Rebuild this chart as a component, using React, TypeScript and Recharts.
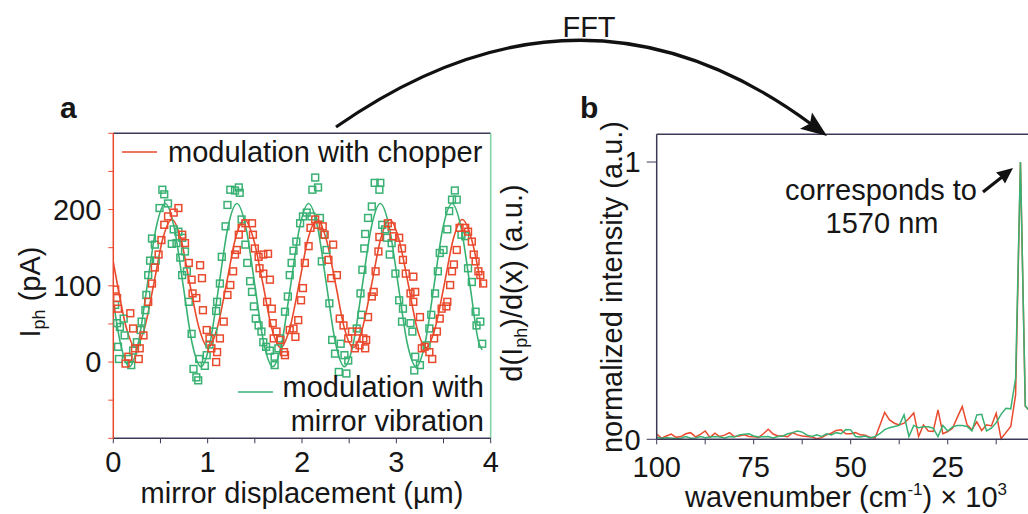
import {
  ComposedChart,
  LineChart,
  Line,
  Scatter,
  XAxis,
  YAxis,
  ReferenceLine,
} from 'recharts'

const FONT = "'Liberation Sans', Arial, Helvetica, sans-serif"
const RED = '#e9492c'
const GREEN = '#38b173'
const GREEN_AXIS = '#7fcfa0'
const NAVY = '#3a3a58'

// panel a: photocurrent vs mirror displacement (µm, pA)
const chopperPoints: [number, number][] = [
  [0.02, 95], [0.04, 84], [0.05, 70], [0.13, -2], [0.16, 7], [0.18, 64], [0.21, 44], [0.23, 18],
  [0.27, 4], [0.28, 18], [0.32, 35], [0.37, 79], [0.41, 103], [0.44, 124], [0.48, 141], [0.51, 160],
  [0.54, 180], [0.58, 191], [0.64, 196], [0.69, 202], [0.73, 167], [0.76, 156], [0.8, 130], [0.83, 108],
  [0.84, 90], [0.88, 84], [0.92, 127], [0.94, 110], [0.95, 68], [0.99, 42], [1.02, 31], [1.04, 18],
  [1.09, 0], [1.1, 13], [1.13, 31], [1.17, 53], [1.21, 88], [1.24, 101], [1.27, 119], [1.29, 141],
  [1.31, 147], [1.33, 167], [1.36, 176], [1.4, 182], [1.47, 182], [1.48, 167], [1.5, 149], [1.54, 138],
  [1.55, 123], [1.59, 141], [1.59, 116], [1.63, 79], [1.64, 142], [1.66, 108], [1.68, 70], [1.69, 51],
  [1.7, 31], [1.73, 40], [1.77, 29], [1.81, 13], [1.82, 9], [1.87, 42], [1.91, 44], [1.93, 33],
  [1.96, 55], [1.99, 81], [2.01, 97], [2.03, 130], [2.07, 152], [2.09, 176], [2.14, 187], [2.17, 180],
  [2.22, 178], [2.24, 167], [2.28, 134], [2.31, 110], [2.33, 154], [2.37, 114], [2.4, 57], [2.44, 48],
  [2.49, 31], [2.53, 40], [2.56, 18], [2.6, 40], [2.61, 22], [2.65, 31], [2.67, 18], [2.68, 29],
  [2.7, 59], [2.74, 86], [2.76, 92], [2.78, 119], [2.81, 145], [2.82, 164], [2.91, 182], [2.95, 178],
  [2.97, 165], [3.03, 163], [3.06, 149], [3.07, 134], [3.1, 116], [3.15, 90], [3.18, 112], [3.18, 79],
  [3.2, 92], [3.25, 59], [3.27, 18], [3.3, 20], [3.35, 13], [3.38, 4], [3.4, 31], [3.43, 40],
  [3.46, 57], [3.48, 70], [3.53, 73], [3.54, 79], [3.57, 101], [3.59, 119], [3.61, 128], [3.64, 147],
  [3.67, 176], [3.73, 176], [3.76, 171], [3.8, 158], [3.82, 141], [3.84, 132], [3.87, 119], [3.89, 114],
  [3.92, 103],
]

const mirrorPoints: [number, number][] = [
  [0.02, 75], [0.04, 51], [0.05, 20], [0.06, 4], [0.07, 46], [0.11, 57], [0.12, 35], [0.16, 4],
  [0.19, -4], [0.21, 15], [0.25, 26], [0.29, 42], [0.3, 53], [0.34, 68], [0.35, 88], [0.37, 114],
  [0.39, 133], [0.41, 162], [0.44, 154], [0.45, 133], [0.49, 202], [0.52, 226], [0.54, 220], [0.58, 208],
  [0.62, 155], [0.64, 174], [0.67, 156], [0.69, 171], [0.71, 137], [0.73, 163], [0.73, 114], [0.76, 145],
  [0.78, 119], [0.8, 79], [0.83, 37], [0.85, -9], [0.88, -20], [0.9, -24], [0.91, 4], [0.97, -5],
  [0.99, 9], [1.02, 23], [1.06, 40], [1.09, 67], [1.1, 79], [1.13, 103], [1.15, 138], [1.19, 178],
  [1.21, 206], [1.24, 226], [1.29, 225], [1.33, 229], [1.34, 222], [1.36, 187], [1.4, 154], [1.42, 130],
  [1.45, 106], [1.47, 92], [1.49, 73], [1.51, 57], [1.54, 48], [1.57, 40], [1.59, 26], [1.62, 20],
  [1.66, 15], [1.71, 7], [1.71, -4], [1.75, 18], [1.77, 31], [1.82, 66], [1.85, 86], [1.87, 114],
  [1.89, 130], [1.91, 146], [1.94, 158], [1.98, 182], [2.01, 191], [2.05, 196], [2.1, 191], [2.11, 226],
  [2.14, 242], [2.17, 229], [2.19, 189], [2.21, 132], [2.23, 167], [2.26, 147], [2.29, 77], [2.32, 29],
  [2.35, 11], [2.39, -13], [2.41, 24], [2.45, 9], [2.47, -15], [2.49, 2], [2.58, 44], [2.62, 90],
  [2.63, 62], [2.64, 121], [2.66, 149], [2.67, 168], [2.7, 189], [2.74, 204], [2.77, 235], [2.82, 226],
  [2.83, 235], [2.85, 180], [2.88, 174], [2.9, 163], [2.93, 141], [2.95, 156], [2.99, 116], [3.03, 81],
  [3.06, 53], [3.07, 70], [3.15, 51], [3.17, 40], [3.19, -11], [3.2, 7], [3.25, -4], [3.32, 22],
  [3.35, 44], [3.37, 62], [3.41, 90], [3.44, 119], [3.46, 143], [3.5, 147], [3.54, 174], [3.56, 198],
  [3.59, 213], [3.62, 225], [3.64, 213], [3.69, 167], [3.73, 165], [3.76, 123], [3.8, 105], [3.84, 66],
  [3.85, 48], [3.89, 53], [3.91, 24],
]

// fitted sinusoids, sampled at eighth-period steps
const chopperFit: [number, number][] = [
  [0, 131], [0.04, 104], [0.14, 44], [0.235, 19], [0.33, 44], [0.43, 103], [0.525, 162], [0.62, 187],
  [0.715, 162], [0.81, 103], [0.91, 44], [1.005, 19], [1.1, 44], [1.2, 103], [1.295, 162], [1.39, 187],
  [1.485, 162], [1.585, 103], [1.68, 44], [1.775, 19], [1.87, 44], [1.97, 103], [2.065, 162], [2.16, 187],
  [2.255, 162], [2.355, 103], [2.45, 44], [2.545, 19], [2.64, 44], [2.74, 103], [2.835, 162], [2.93, 187],
  [3.025, 162], [3.125, 103], [3.22, 44], [3.315, 19], [3.41, 44], [3.51, 103], [3.605, 162], [3.7, 187],
  [3.795, 162], [3.9, 100],
]

const mirrorFit: [number, number][] = [
  [0, 80], [0.075, 25], [0.17, -6], [0.265, 25], [0.36, 101], [0.455, 177], [0.55, 208], [0.645, 177],
  [0.74, 101], [0.835, 25], [0.93, -6], [1.025, 25], [1.12, 101], [1.215, 177], [1.31, 208], [1.405, 177],
  [1.5, 101], [1.595, 25], [1.69, -6], [1.785, 25], [1.88, 101], [1.975, 177], [2.07, 208], [2.165, 177],
  [2.26, 101], [2.355, 25], [2.45, -6], [2.545, 25], [2.64, 101], [2.735, 177], [2.83, 208], [2.925, 177],
  [3.02, 101], [3.115, 25], [3.21, -6], [3.305, 25], [3.4, 101], [3.495, 177], [3.59, 208], [3.685, 177],
  [3.78, 101], [3.875, 25], [3.91, 16],
]

const displacementTicks = [0, 0.5, 1, 1.5, 2, 2.5, 3, 3.5, 4]
const currentTicks = [-100, -50, 0, 50, 100, 150, 200, 250, 300]

// panel b: FFT spectra (wavenumber in 10^3 cm^-1)
const wavenumbers = [
  100, 98.75, 97.5, 96.25, 95, 93.75, 92.5, 91.25, 90, 88.75, 87.5, 86.25, 85, 83.75, 82.5, 81.25,
  80, 78.75, 77.5, 76.25, 75, 73.75, 72.5, 71.25, 70, 68.75, 67.5, 66.25, 65, 63.75, 62.5, 61.25,
  60, 58.75, 57.5, 56.25, 55, 53.75, 52.5, 51.25, 50, 48.75, 47.5, 46.25, 45, 43.75, 42.5, 41.25,
  40, 38.75, 37.5, 36.25, 35, 33.75, 32.5, 31.25, 30, 28.75, 27.5, 26.25, 25, 23.75, 22.5, 21.25,
  20, 18.75, 17.5, 16.25, 15, 13.75, 12.5, 11.25, 10, 8.75, 7.5, 6.25, 5, 3.75, 2.5,
]

const chopperSpectrum = [
  0.019, 0.004, 0.012, 0.019, 0.007, 0.01, 0.02, 0.024, 0.009, 0.018, 0.03, 0.007, 0.022, 0.01, 0.015, 0.024,
  0.01, 0.012, 0.016, 0.01, 0.009, 0.007, 0.02, 0.036, 0.019, 0.012, 0.012, 0.009, 0.024, 0.016, 0.012, 0.01,
  0.008, 0.002, 0.006, 0.016, 0.022, 0.032, 0.034, 0.02, 0.02, 0.024, 0.016, 0.015, 0.007, 0.004, 0.05, 0.097,
  0.07, 0.058, 0.052, 0.058, 0.075, 0.095, 0.01, 0.052, 0.03, 0.028, 0.106, 0.02, 0.028, 0.04, 0.08, 0.118,
  0.052, 0.034, 0.063, 0.032, 0.052, 0.048, 0.094, 0.002, 0.024, 0.046, 0.16, 1, 0.12, 0.1, 0.08,
]

const mirrorSpectrum = [
  0.007, 0.004, 0.006, 0.005, 0.003, 0.004, 0.01, 0.004, 0.005, 0.01, 0.006, 0.008, 0.01, 0.008, 0.005, 0.01,
  0.008, 0.016, 0.018, 0.02, 0.012, 0.008, 0.009, 0.01, 0.005, 0.01, 0.012, 0.02, 0.024, 0.03, 0.026, 0.015,
  0.01, 0.016, 0.01, 0.02, 0.016, 0.024, 0.02, 0.035, 0.034, 0.01, 0.008, 0.012, 0.005, 0.01, 0.02, 0.035,
  0.042, 0.046, 0.05, 0.088, 0.01, 0.05, 0.042, 0.045, 0.045, 0.04, 0.01, 0.05, 0.03, 0.045, 0.05, 0.05,
  0.046, 0.03, 0.088, 0.09, 0.03, 0.04, 0.06, 0.09, 0.112, 0.11, 0.22, 1, 0.12, 0.1, 0.09,
]

const wavenumberTicks = [100, 87.5, 75, 62.5, 50, 37.5, 25, 12.5, 0]
const intensityTicks = [0, 1]

const toXY = (pts: [number, number][]) => pts.map(([x, y]) => ({ x, y }))

const spectrumRows = wavenumbers.map((x, i) => ({
  x,
  chopper: chopperSpectrum[i],
  mirror: mirrorSpectrum[i],
}))

const tickStyle = { fill: '#161616', fontSize: 29, fontFamily: FONT }

const hollowSquare = (color: string) => (props: any) => {
  const { cx, cy } = props
  if (cx == null || cy == null) return <g />
  return <rect x={cx - 3.4} y={cy - 3.4} width={6.8} height={6.8} fill="none" stroke={color} strokeWidth={1.5} />
}

function PanelA() {
  return (
    <ComposedChart width={470} height={380} margin={{ top: 33.3, right: 29.3, bottom: 1.7, left: 23.3 }}>
      <XAxis
        type="number"
        dataKey="x"
        domain={[0, 4]}
        ticks={displacementTicks}
        interval={0}
        tickFormatter={(v: number) => (Number.isInteger(v) ? String(v) : '')}
        height={40}
        tickSize={5}
        tickMargin={8}
        tick={tickStyle}
        axisLine={{ stroke: NAVY, strokeWidth: 1.5 }}
        tickLine={{ stroke: NAVY }}
        allowDataOverflow
      />
      <YAxis
        type="number"
        dataKey="y"
        domain={[-100, 300]}
        ticks={currentTicks}
        interval={0}
        tickFormatter={(v: number) => (v === 0 || v === 100 || v === 200 ? String(v) : '')}
        width={40}
        tickSize={5}
        tickMargin={7}
        tick={tickStyle}
        axisLine={{ stroke: RED, strokeWidth: 1.5 }}
        tickLine={{ stroke: RED }}
        allowDataOverflow
      />
      <ReferenceLine y={300} stroke={NAVY} strokeWidth={1.5} />
      <ReferenceLine x={4} stroke={GREEN_AXIS} strokeWidth={1.5} />
      <Scatter data={toXY(mirrorPoints)} dataKey="y" shape={hollowSquare(GREEN)} isAnimationActive={false} />
      <Scatter data={toXY(chopperPoints)} dataKey="y" shape={hollowSquare(RED)} isAnimationActive={false} />
      <Line data={toXY(chopperFit)} dataKey="y" type="monotone" stroke={RED} strokeWidth={1.6} dot={false} isAnimationActive={false} />
      <Line data={toXY(mirrorFit)} dataKey="y" type="monotone" stroke={GREEN} strokeWidth={1.6} dot={false} isAnimationActive={false} />
    </ComposedChart>
  )
}

function PanelB() {
  return (
    <LineChart width={500} height={400} data={spectrumRows} margin={{ top: 44.3, right: 15.3, bottom: 10.7, left: 46.7 }}>
      <XAxis
        type="number"
        dataKey="x"
        domain={[0, 100]}
        reversed
        ticks={wavenumberTicks}
        interval={0}
        tickFormatter={(v: number) => (v > 0 && v % 25 === 0 ? String(v) : '')}
        height={40}
        tickSize={5}
        tickMargin={12}
        tick={tickStyle}
        axisLine={{ stroke: NAVY, strokeWidth: 1.5 }}
        tickLine={{ stroke: NAVY }}
      />
      <YAxis
        type="number"
        domain={[0, 1.1]}
        ticks={intensityTicks}
        interval={0}
        width={50}
        tickSize={10}
        tickMargin={6}
        tick={tickStyle}
        axisLine={{ stroke: NAVY, strokeWidth: 1.5 }}
        tickLine={{ stroke: NAVY }}
      />
      <ReferenceLine y={1.1} stroke={NAVY} strokeWidth={1.5} />
      <Line dataKey="chopper" type="linear" stroke={RED} strokeWidth={1.5} dot={false} isAnimationActive={false} />
      <Line dataKey="mirror" type="linear" stroke={GREEN} strokeWidth={1.5} dot={false} isAnimationActive={false} />
    </LineChart>
  )
}

// letters, titles, legends and the arrows
function Annotations() {
  const txt = { fontFamily: FONT, fontSize: 29, fill: '#161616' }
  return (
    <svg width={1028} height={514} style={{ position: 'absolute', left: 0, top: 0, pointerEvents: 'none' }}>
      <text x={60} y={118} {...txt} fontSize={30} fontWeight="bold">a</text>
      <text x={580} y={118} {...txt} fontSize={30} fontWeight="bold">b</text>

      <text x={589} y={37} {...txt} textAnchor="middle">FFT</text>
      <path d="M336,127 Q582,-45 811,124" fill="none" stroke="#111" strokeWidth={3.2} />
      <polygon points="827,136 800,128.8 810,123.5 812,112.5" fill="#111" />

      <line x1={122} y1={152} x2={157} y2={152} stroke={RED} strokeWidth={1.6} />
      <text x={168} y={162} {...txt}>modulation with chopper</text>
      <line x1={238} y1={392} x2={273} y2={392} stroke={GREEN} strokeWidth={1.6} />
      <text x={484} y={397} {...txt} textAnchor="end">modulation with</text>
      <text x={484} y={431} {...txt} textAnchor="end">mirror vibration</text>

      <text x={40} y={292} {...txt} textAnchor="middle" transform="rotate(-90 40 292)">
        I<tspan fontSize={18} dy={5}>ph</tspan>
        <tspan dy={-5}> (pA)</tspan>
      </text>
      <text x={522} y={283} {...txt} textAnchor="middle" transform="rotate(-90 522 283)">
        d(I<tspan fontSize={18} dy={5}>ph</tspan>
        <tspan dy={-5}>)/d(x) (a.u.)</tspan>
      </text>
      <text x={302} y={503} {...txt} textAnchor="middle">mirror displacement (µm)</text>

      <text x={622} y={287} {...txt} textAnchor="middle" transform="rotate(-90 622 287)">
        normalized intensity (a.u.)
      </text>
      <text x={846} y={507} {...txt} textAnchor="middle">
        wavenumber (cm<tspan fontSize={17} dy={-12}>-1</tspan>
        <tspan dy={12}>) × 10</tspan>
        <tspan fontSize={17} dy={-12}>3</tspan>
      </text>

      <text x={881} y={200} {...txt} textAnchor="middle">corresponds to</text>
      <text x={882} y={233} {...txt} textAnchor="middle">1570 nm</text>
      <line x1={983} y1={192} x2={1002} y2={177} stroke="#111" strokeWidth={3.2} />
      <polygon points="1013,168 1005,183.5 1001,177 996,172.5" fill="#111" />
    </svg>
  )
}

export default function App() {
  return (
    <div style={{ position: 'fixed', left: 0, top: 0, width: 1028, height: 514, overflow: 'hidden', background: '#fff' }}>
      <div style={{ position: 'absolute', left: 50, top: 100 }}>
        <PanelA />
      </div>
      <div style={{ position: 'absolute', left: 560, top: 90 }}>
        <PanelB />
      </div>
      <Annotations />
    </div>
  )
}
